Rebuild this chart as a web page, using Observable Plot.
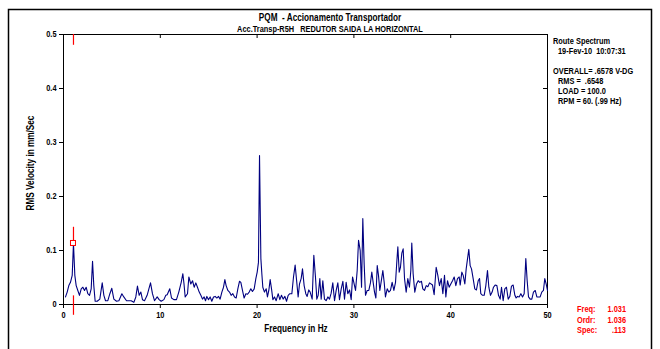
<!DOCTYPE html>
<html><head><meta charset="utf-8">
<script src="https://cdn.jsdelivr.net/npm/d3@7"></script>
<script src="https://cdn.jsdelivr.net/npm/@observablehq/plot@0.6"></script>
<style>
html,body{margin:0;padding:0;background:#fff;}
#chart svg{display:block;}
#chart svg text{white-space:pre;}
</style>
</head><body><div id="chart"></div>
<script>
const freqHz = [0.21,0.38,0.55,0.72,0.90,1.03,1.17,1.31,1.48,1.65,1.83,2.00,2.17,2.34,2.51,2.69,2.86,3.00,3.13,3.27,3.48,3.75,4.00,4.17,4.34,4.58,4.79,4.99,5.20,5.48,5.72,6.03,6.23,6.51,6.75,6.99,7.27,7.47,7.64,7.82,7.99,8.16,8.37,8.64,8.82,8.99,9.19,9.40,9.68,9.88,10.09,10.37,10.57,10.71,10.98,11.16,11.40,11.67,11.91,12.16,12.33,12.45,12.57,12.81,12.95,13.15,13.33,13.50,13.67,13.84,14.02,14.19,14.36,14.53,14.67,14.81,14.98,15.15,15.32,15.50,15.67,15.84,16.01,16.18,16.36,16.53,16.67,16.80,16.98,17.15,17.32,17.49,17.67,17.84,18.01,18.18,18.32,18.49,18.66,18.84,19.01,19.18,19.35,19.52,19.70,19.87,20.01,20.14,20.25,20.39,20.49,20.59,20.76,20.94,21.07,21.21,21.35,21.49,21.63,21.80,21.97,22.18,22.35,22.52,22.69,22.87,23.04,23.21,23.38,23.59,23.76,23.93,24.10,24.24,24.38,24.55,24.69,24.86,25.03,25.17,25.34,25.48,25.69,25.86,26.03,26.17,26.31,26.48,26.62,26.79,26.96,27.13,27.31,27.48,27.65,27.82,28.00,28.17,28.34,28.51,28.69,28.86,29.03,29.20,29.37,29.55,29.72,29.86,29.99,30.17,30.34,30.48,30.65,30.79,30.92,31.06,31.20,31.37,31.54,31.71,31.85,31.99,32.13,32.27,32.41,32.54,32.68,32.85,32.99,33.13,33.26,33.44,33.61,33.78,33.95,34.13,34.30,34.44,34.54,34.68,34.81,34.95,35.09,35.23,35.40,35.57,35.74,35.88,35.98,36.12,36.29,36.47,36.64,36.81,36.98,37.12,37.29,37.47,37.64,37.81,38.12,38.29,38.50,38.67,38.84,39.02,39.19,39.36,39.50,39.67,39.84,40.01,40.19,40.36,40.53,40.70,40.88,40.98,41.15,41.29,41.46,41.60,41.74,41.87,42.01,42.15,42.32,42.49,42.66,42.84,42.98,43.11,43.29,43.46,43.63,43.80,43.94,44.11,44.28,44.42,44.59,44.77,44.94,45.11,45.25,45.42,45.59,45.76,45.94,46.11,46.28,46.45,46.63,46.76,46.90,47.07,47.25,47.42,47.59,47.76,47.90,48.04,48.21,48.38,48.55,48.73,48.90,49.07,49.24,49.41,49.58,49.72,49.86,50.00];
const rmsVelocity = [0.014,0.023,0.035,0.041,0.054,0.113,0.054,0.035,0.026,0.017,0.029,0.032,0.026,0.032,0.020,0.017,0.029,0.080,0.035,0.006,0.006,0.010,0.040,0.017,0.007,0.007,0.020,0.030,0.010,0.006,0.007,0.020,0.014,0.007,0.007,0.007,0.004,0.014,0.034,0.017,0.023,0.009,0.007,0.017,0.029,0.040,0.020,0.007,0.014,0.009,0.006,0.009,0.017,0.018,0.029,0.012,0.009,0.009,0.023,0.041,0.057,0.038,0.014,0.020,0.051,0.038,0.044,0.032,0.040,0.032,0.023,0.017,0.010,0.014,0.007,0.015,0.009,0.014,0.006,0.014,0.015,0.012,0.015,0.010,0.023,0.032,0.046,0.035,0.026,0.023,0.017,0.020,0.014,0.012,0.029,0.043,0.041,0.026,0.012,0.020,0.019,0.023,0.029,0.024,0.029,0.048,0.060,0.078,0.276,0.085,0.057,0.032,0.023,0.029,0.014,0.026,0.046,0.029,0.009,0.014,0.007,0.020,0.009,0.017,0.010,0.015,0.006,0.017,0.020,0.020,0.051,0.073,0.041,0.014,0.038,0.048,0.066,0.035,0.020,0.015,0.027,0.023,0.010,0.091,0.051,0.010,0.017,0.048,0.010,0.044,0.010,0.007,0.014,0.010,0.021,0.040,0.007,0.026,0.040,0.009,0.029,0.043,0.010,0.041,0.020,0.027,0.009,0.051,0.041,0.026,0.063,0.119,0.100,0.032,0.159,0.075,0.017,0.026,0.026,0.040,0.060,0.041,0.023,0.012,0.072,0.054,0.026,0.046,0.063,0.041,0.014,0.029,0.023,0.026,0.041,0.026,0.041,0.081,0.107,0.060,0.069,0.095,0.103,0.048,0.023,0.048,0.032,0.063,0.114,0.057,0.023,0.038,0.044,0.041,0.043,0.029,0.026,0.035,0.033,0.040,0.036,0.018,0.069,0.054,0.035,0.048,0.020,0.054,0.014,0.044,0.032,0.038,0.044,0.051,0.035,0.048,0.051,0.036,0.060,0.054,0.038,0.066,0.085,0.102,0.072,0.066,0.048,0.029,0.027,0.044,0.048,0.020,0.017,0.017,0.035,0.063,0.032,0.017,0.023,0.032,0.036,0.035,0.017,0.010,0.032,0.007,0.029,0.032,0.010,0.015,0.034,0.036,0.017,0.012,0.015,0.014,0.020,0.014,0.020,0.085,0.044,0.014,0.010,0.010,0.023,0.026,0.014,0.014,0.014,0.023,0.026,0.048,0.038,0.026];

const xTicks = [0, 10, 20, 30, 40, 50];
const yTicks = [0, 0.1, 0.2, 0.3, 0.4, 0.5];
const yTickLabels = ["0", "0.1", "0.2", "0.3", "0.4", "0.5"];
const titleText = "PQM  - Accionamento Transportador";
const subtitleText = "Acc.Transp-R5H   REDUTOR SAIDA LA HORIZONTAL";
const xTitle = "Frequency in Hz";
const yTitle = "RMS Velocity in mm/Sec";
const infoLines = ["Route Spectrum", "19-Fev-10  10:07:31", "OVERALL= .6578 V-DG", "RMS =  .6548", "LOAD = 100.0", "RPM = 60. (.99 Hz)"];
const cursorLabels = ["Freq:", "Ordr:", "Spec:"];
const cursorValues = ["1.031", "1.036", ".113"];
const cursorFreq = 1.031;
const cursorSpec = 0.113;

const FONT = '"Liberation Sans", Arial, sans-serif';
const NARROW = 0.82;
const spectrum = freqHz.map((f, i) => ({f, v: rmsVelocity[i]}));
const cursor = [{f: cursorFreq, v: cursorSpec}];

const W = 660, H = 349, ML = 63, MR = 113, MT = 34, MB = 45;
const chart = Plot.plot({
  width: W, height: H,
  marginLeft: ML, marginRight: MR, marginTop: MT, marginBottom: MB,
  style: {fontFamily: FONT, fontSize: "9px", fontWeight: "bold", color: "#000", background: "#fff", overflow: "visible"},
  x: {domain: [0, 50], ticks: xTicks, tickFormat: d => String(d), tickSize: 4, tickPadding: 3, label: null},
  y: {domain: [0, 0.5], ticks: yTicks, tickFormat: d => yTickLabels[yTicks.indexOf(d)], tickSize: 4, tickPadding: 3, label: null},
  marks: [
    Plot.frame({stroke: "#000", strokeWidth: 1}),
    Plot.tickX(xTicks.slice(1, -1), {x: d => d, insetBottom: 266, stroke: "#000"}),
    Plot.tickY(yTicks.slice(1, -1), {y: d => d, insetLeft: 480, stroke: "#000"}),
    Plot.line(spectrum, {x: "f", y: "v", stroke: "#000080", strokeWidth: 1.1}),
    Plot.ruleX([cursorFreq], {y1: 0.5, y2: 0.48, stroke: "#ff0000", strokeWidth: 1.2}),
    Plot.ruleX([cursorFreq], {y1: cursorSpec + 0.03, y2: cursorSpec, stroke: "#ff0000", strokeWidth: 1.2}),
    Plot.ruleX([cursorFreq], {y1: 0.016, y2: -0.02, stroke: "#ff0000", strokeWidth: 1.2}),
    Plot.rect(cursor, {x1: "f", x2: "f", y1: "v", y2: "v", inset: -2.5, stroke: "#ff0000", fill: "#fff", strokeWidth: 1})
  ]
});
document.getElementById("chart").appendChild(chart);

const svg = d3.select(chart);
const xR = W - MR, yB = H - MB;
const g = svg.append("g").attr("font-family", FONT).attr("font-weight", "bold").attr("fill", "#000").attr("text-anchor", "start");
function addText(t, x, y, size, anchor, fill, rot) {
  const el = g.append("text").attr("font-size", size).attr("text-anchor", anchor).attr("dy", "0.35em").attr("fill", fill || "#000").text(t);
  if (rot) el.attr("transform", `translate(${x},${y}) rotate(${rot})`);
  else el.attr("x", x).attr("y", y);
  return el;
}
addText(titleText, W / 2, 17, 10, "middle");
addText(subtitleText, W / 2, 28.5, 9, "middle");
addText(xTitle, 296, 328, 10, "middle");
addText(yTitle, 30, 163, 10, "middle", "#000", -90);
const infoX = [xR + 6, xR + 11, xR + 6, xR + 11, xR + 11, xR + 11];
const infoY = [41, 51, 71, 81, 91, 101];
infoLines.forEach((t, i) => addText(t, infoX[i], infoY[i], 9, "start"));
cursorLabels.forEach((t, i) => {
  addText(t, xR + 30, yB + 5 + i * 10.5, 9, "start", "#ff0000");
  addText(cursorValues[i], xR + 79, yB + 5 + i * 10.5, 9, "end", "#ff0000");
});
// emulate a narrow (condensed) face by compressing every text horizontally
svg.selectAll("text").each(function () {
  const len = this.getComputedTextLength();
  if (len > 0) { this.setAttribute("textLength", (len * NARROW).toFixed(2)); this.setAttribute("lengthAdjust", "spacingAndGlyphs"); }
});
svg.insert("rect", ":first-child").attr("x", 8.5).attr("y", 9.5).attr("width", 643).attr("height", 360).attr("fill", "none").attr("stroke", "#000").attr("stroke-width", 1.5);
</script>
</body></html>
